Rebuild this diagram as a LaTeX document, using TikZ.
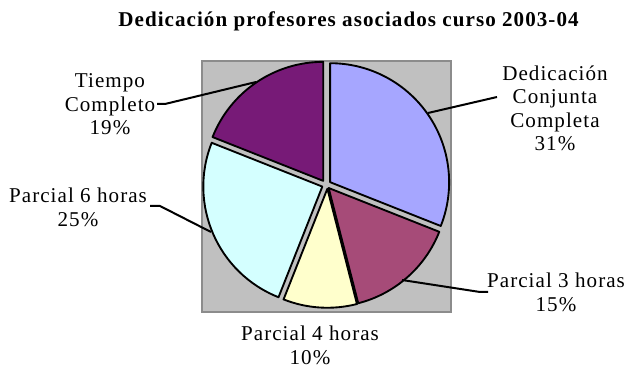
\documentclass[tikz,border=0pt]{standalone}
\usepackage{fontspec}
\setmainfont{Liberation Serif}[LetterSpace=5]
\usetikzlibrary{calc}
\definecolor{plotgray}{HTML}{C0C0C0}
\definecolor{plotedge}{HTML}{8C8C8C}
\definecolor{cblue}{HTML}{A6A6FF}
\definecolor{cmag}{HTML}{A64B78}
\definecolor{cyel}{HTML}{FFFFCC}
\definecolor{ccyan}{HTML}{D4FFFF}
\definecolor{cpur}{HTML}{771A77}
\tikzset{
  lbl/.style={align=center, inner sep=0pt, font=\fontsize{15.8}{17.6}\selectfont},
  ttl/.style={inner sep=0pt, font=\fontsize{15.8}{17.6}\selectfont\bfseries},
  slice/.style={draw=black, line width=1.4pt, line join=round},
  leader/.style={draw=black, line width=1.5pt},
}
\newcommand{\pieslice}[5]{% start, end, offset angle, offset, color
  \fill[#5] ($(C)+(#3:#4)$) -- ++(#1:119) arc[start angle=#1, end angle=#2, radius=119] -- cycle;
  \draw[slice] ($(C)+(#3:#4)$) -- ++(#1:119) arc[start angle=#1, end angle=#2, radius=119] -- cycle;
}
\begin{document}
\begin{tikzpicture}[x=0.75pt,y=0.75pt]
\useasboundingbox (0,0) rectangle (629,368);
\fill[white] (0,0) rectangle (629,368);
% plot area
\draw[fill=plotgray, draw=plotedge, line width=1.5pt] (202,56) rectangle (451,307);
\coordinate (C) at (326,183);
\pieslice{-21.6}{90}{34.2}{5}{cblue}
\pieslice{-75.6}{-21.6}{-48.6}{4}{cmag}
\pieslice{-111.6}{-75.6}{-70}{4}{cyel}
\pieslice{158.4}{248.4}{203.4}{4}{ccyan}
\pieslice{90}{158.4}{124.2}{5}{cpur}
% title
\node[ttl] (title) at (348.5,347) {Dedicación profesores asociados curso 2003-04};
% labels
\node[lbl] (lA) at (555,259.5) {Dedicación\\Conjunta\\Completa\\31\%};
\node[lbl] (lB) at (556,75.5) {Parcial 3 horas\\15\%};
\node[lbl] (lC) at (310,22.5) {Parcial 4 horas\\10\%};
\node[lbl] (lD) at (78,160.5) {Parcial 6 horas\\25\%};
\node[lbl] (lE) at (110,263.5) {Tiempo\\Completo\\19\%};
% leaders
\coordinate (pA) at (428,255);
\coordinate (eA) at (497,271);
\draw[leader] (pA) -- (eA);
\coordinate (pB) at (402,88);
\coordinate (kB) at (480,76);
\coordinate (eB) at (488,76);
\draw[leader] (pB) -- (kB) -- (eB);
\coordinate (pD) at (211,136);
\coordinate (kD) at (160,162);
\coordinate (eD) at (150,162);
\draw[leader] (pD) -- (kD) -- (eD);
\coordinate (pE) at (256,286);
\coordinate (kE) at (165,264);
\coordinate (eE) at (157,264);
\draw[leader] (pE) -- (kE) -- (eE);
\end{tikzpicture}
\end{document}
